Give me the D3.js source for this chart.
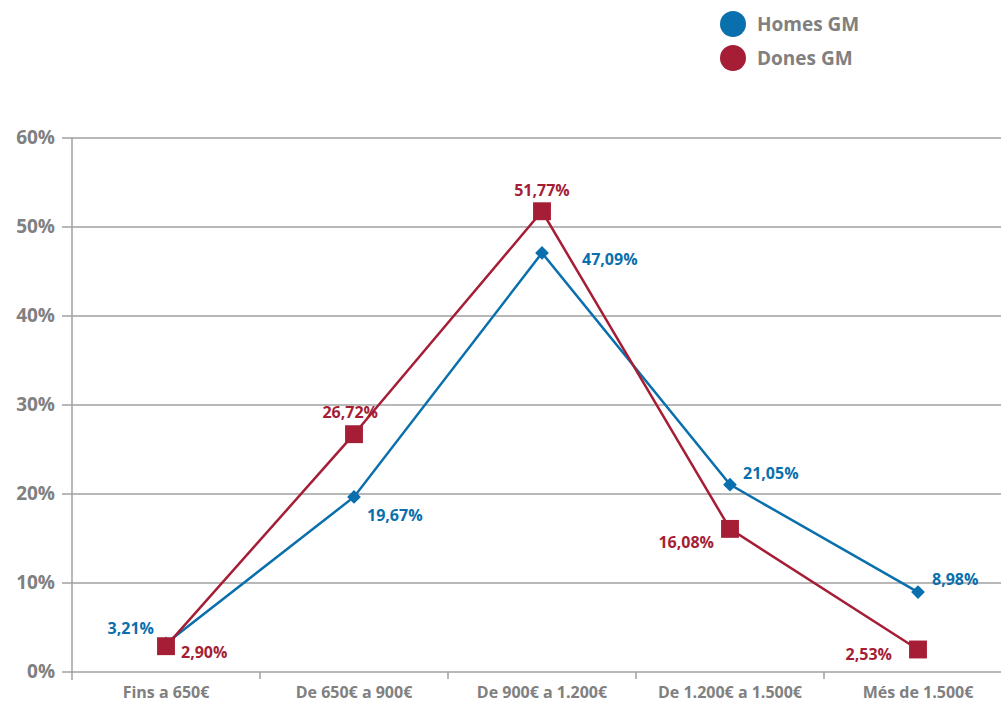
<!DOCTYPE html>
<html>
<head>
<meta charset="utf-8">
<title>Homes / Dones GM</title>
<script src="https://d3js.org/d3.v7.min.js"></script>
<style>
  body { margin: 0; background: #fff; }
  text { font-family: "Open Sans", sans-serif; font-weight: bold; }
</style>
</head>
<body>
<svg width="1001" height="703"></svg>
<script>
// data
var categories = ["Fins a 650€", "De 650€ a 900€", "De 900€ a 1.200€", "De 1.200€ a 1.500€", "Més de 1.500€"];
var homes = [3.21, 19.67, 47.09, 21.05, 8.98];
var dones = [2.90, 26.72, 51.77, 16.08, 2.53];
var seriesNames = ["Homes GM", "Dones GM"];
var yTicks = [0, 10, 20, 30, 40, 50, 60];

var blue = "#0a6fad", red = "#a51e36", grey = "#808080";

// where each value label sits relative to its point
var homesLabelPos = [[-12, -15, "end"], [13, 18, "start"], [40, 6, "start"], [13, -12, "start"], [14, -13, "start"]];
var donesLabelPos = [[15, 6, "start"], [24, -22, "end"], [0, -21, "middle"], [-16, 13, "end"], [-26, 5, "end"]];

var svg = d3.select("svg");
var plotL = 72, plotR = 1012, plotT = 138, plotB = 672;

var x = d3.scaleBand().domain(categories).range([plotL, plotR]);
var y = d3.scaleLinear().domain([0, 60]).range([plotB, plotT]);

// gridlines
svg.append("g").selectAll("line").data(yTicks).enter().append("line")
  .attr("x1", plotL - 10).attr("x2", 1001)
  .attr("y1", function(d) { return y(d); }).attr("y2", function(d) { return y(d); })
  .attr("stroke", "#a0a0a0").attr("stroke-width", 1.5);

svg.append("line").attr("x1", plotL).attr("x2", plotL).attr("y1", plotT).attr("y2", plotB + 8)
  .attr("stroke", "#a0a0a0").attr("stroke-width", 1.5);

// x ticks at band boundaries
svg.append("g").selectAll("line").data(categories.slice(1)).enter().append("line")
  .attr("x1", function(d) { return x(d); }).attr("x2", function(d) { return x(d); })
  .attr("y1", plotB).attr("y2", plotB + 7)
  .attr("stroke", "#a0a0a0").attr("stroke-width", 1.5);

svg.append("g").selectAll("text").data(yTicks).enter().append("text")
  .attr("x", 55).attr("y", function(d) { return y(d) + 6; })
  .attr("text-anchor", "end").attr("fill", grey).style("font-size", "19px")
  .text(function(d) { return d + "%"; });

svg.append("g").selectAll("text").data(categories).enter().append("text")
  .attr("x", function(d) { return x(d) + x.bandwidth() / 2; }).attr("y", 698)
  .attr("text-anchor", "middle").attr("fill", grey).style("font-size", "16px")
  .text(function(d) { return d; });

var cx = function(d, i) { return x(categories[i]) + x.bandwidth() / 2; };
var line = d3.line().x(cx).y(function(d) { return y(d); });

function fmt(v) { return v.toFixed(2).replace(".", ",") + "%"; }

function drawSeries(vals, color, size, rotate, pos) {
  var g = svg.append("g");
  g.append("path").datum(vals).attr("d", line)
    .attr("fill", "none").attr("stroke", color).attr("stroke-width", 2.5);
  g.selectAll("path.m").data(vals).enter().append("path").attr("class", "m")
    .attr("d", d3.symbol().type(d3.symbolSquare).size(size))
    .attr("transform", function(d, i) {
      return "translate(" + cx(d, i) + "," + y(d) + ")" + (rotate ? " rotate(45)" : "");
    })
    .attr("fill", color);
  g.selectAll("text").data(vals).enter().append("text")
    .attr("x", function(d, i) { return cx(d, i) + pos[i][0]; })
    .attr("y", function(d, i) { return y(d) + pos[i][1] + 6; })
    .attr("text-anchor", function(d, i) { return pos[i][2]; })
    .attr("fill", color).style("font-size", "16px")
    .text(fmt);
}

drawSeries(homes, blue, 95, true, homesLabelPos);
drawSeries(dones, red, 320, false, donesLabelPos);

// legend
var legend = svg.append("g").selectAll("g").data(seriesNames).enter().append("g")
  .attr("transform", function(d, i) { return "translate(733," + (24 + i * 34) + ")"; });
legend.append("circle").attr("r", 13).attr("fill", function(d, i) { return i ? red : blue; });
legend.append("text").attr("x", 24).attr("y", 7).attr("fill", grey).style("font-size", "19px")
  .text(function(d) { return d; });
</script>
</body>
</html>
